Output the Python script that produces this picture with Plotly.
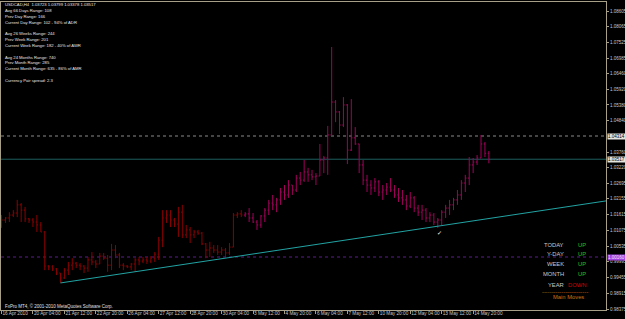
import plotly.graph_objects as go

# ---------------- data ----------------
bar_index = list(range(125))
opens = [1.0126,1.0143,1.0150,1.0160,1.0167,1.0195,1.0177,1.0147,1.0143,1.0136,
         1.0126,1.0102,0.9985,0.9982,0.9975,0.9961,0.9944,0.9971,0.9988,0.9995,
         0.9988,0.9985,0.9978,1.0006,0.9999,0.9992,1.0019,1.0012,0.9988,1.0040,
         1.0023,0.9988,0.9985,0.9982,0.9992,1.0006,1.0002,1.0006,1.0002,1.0012,
         1.0026,1.0074,1.0150,1.0160,1.0143,1.0129,1.0170,1.0092,1.0109,1.0092,
         1.0102,1.0098,1.0061,1.0040,1.0047,1.0040,1.0033,1.0040,1.0030,1.0050,
         1.0160,1.0164,1.0160,1.0164,1.0150,1.0136,1.0126,1.0157,1.0177,1.0201,
         1.0195,1.0212,1.0239,1.0229,1.0263,1.0246,1.0287,1.0280,1.0308,1.0298,
         1.0291,1.0294,1.0349,1.0356,1.0435,1.0548,1.0514,1.0469,1.0538,1.0383,
         1.0425,1.0404,1.0332,1.0280,1.0263,1.0253,1.0274,1.0239,1.0246,1.0256,
         1.0246,1.0229,1.0219,1.0212,1.0191,1.0219,1.0184,1.0170,1.0177,1.0150,
         1.0160,1.0136,1.0143,1.0170,1.0184,1.0195,1.0212,1.0229,1.0270,1.0287,
         1.0332,1.0342,1.0356,1.0404,1.03723]
highs = [1.0160,1.0153,1.0170,1.0177,1.0212,1.0201,1.0188,1.0150,1.0150,1.0160,
         1.0136,1.0105,0.9988,0.9988,0.9978,0.9961,0.9978,0.9999,1.0012,0.9999,
         0.9995,0.9988,1.0016,1.0033,1.0006,1.0030,1.0030,1.0023,1.0061,1.0057,
         1.0030,0.9995,0.9988,0.9995,1.0012,1.0016,1.0016,1.0016,1.0019,1.0033,
         1.0085,1.0177,1.0177,1.0177,1.0150,1.0188,1.0195,1.0126,1.0119,1.0109,
         1.0109,1.0102,1.0064,1.0068,1.0057,1.0057,1.0050,1.0047,1.0064,1.0167,
         1.0170,1.0177,1.0170,1.0184,1.0167,1.0143,1.0160,1.0184,1.0212,1.0229,
         1.0219,1.0253,1.0263,1.0280,1.0263,1.0298,1.0308,1.0349,1.0322,1.0315,
         1.0304,1.0404,1.0363,1.0466,1.0737,1.0555,1.0517,1.0565,1.0541,1.0558,
         1.0462,1.0404,1.0349,1.0298,1.0280,1.0287,1.0280,1.0263,1.0270,1.0287,
         1.0263,1.0253,1.0246,1.0229,1.0239,1.0225,1.0195,1.0195,1.0184,1.0170,
         1.0167,1.0150,1.0177,1.0195,1.0212,1.0219,1.0246,1.0280,1.0298,1.0359,
         1.0356,1.0366,1.0435,1.0411,1.03799]
lows = [1.0116,1.0133,1.0136,1.0153,1.0153,1.0136,1.0136,1.0133,1.0119,1.0102,
        1.0102,0.9971,0.9971,0.9968,0.9954,0.9927,0.9941,0.9954,0.9971,0.9978,
        0.9971,0.9961,0.9965,0.9988,0.9978,0.9992,1.0006,0.9965,0.9971,1.0012,
        0.9978,0.9971,0.9978,0.9971,0.9965,0.9988,0.9995,0.9992,0.9995,0.9999,
        1.0006,1.0050,1.0133,1.0119,1.0119,1.0085,1.0081,1.0081,1.0064,1.0081,
        1.0092,1.0057,1.0012,1.0016,1.0030,1.0023,1.0023,1.0016,1.0023,1.0050,
        1.0150,1.0153,1.0153,1.0136,1.0133,1.0109,1.0116,1.0136,1.0160,1.0177,
        1.0170,1.0195,1.0212,1.0219,1.0229,1.0239,1.0263,1.0274,1.0274,1.0280,
        1.0263,1.0294,1.0304,1.0298,1.0435,1.0479,1.0438,1.0462,1.0335,1.0380,
        1.0401,1.0304,1.0263,1.0239,1.0229,1.0239,1.0225,1.0212,1.0229,1.0239,
        1.0219,1.0205,1.0195,1.0177,1.0184,1.0170,1.0157,1.0143,1.0136,1.0136,
        1.0126,1.0116,1.0126,1.0150,1.0160,1.0177,1.0195,1.0212,1.0239,1.0263,
        1.0304,1.0332,1.0356,1.0359,1.03378]
closes = [1.0143,1.0150,1.0160,1.0167,1.0195,1.0177,1.0147,1.0143,1.0136,1.0126,
          1.0102,0.9985,0.9982,0.9975,0.9961,0.9944,0.9971,0.9988,0.9995,0.9988,
          0.9985,0.9978,1.0006,0.9999,0.9992,1.0019,1.0012,0.9988,1.0040,1.0023,
          0.9988,0.9985,0.9982,0.9992,1.0006,1.0002,1.0006,1.0002,1.0012,1.0026,
          1.0074,1.0150,1.0160,1.0143,1.0129,1.0170,1.0092,1.0109,1.0092,1.0102,
          1.0098,1.0061,1.0040,1.0047,1.0040,1.0033,1.0040,1.0030,1.0050,1.0160,
          1.0164,1.0160,1.0164,1.0150,1.0136,1.0126,1.0157,1.0177,1.0201,1.0195,
          1.0212,1.0239,1.0229,1.0263,1.0246,1.0287,1.0280,1.0308,1.0298,1.0291,
          1.0294,1.0349,1.0356,1.0435,1.0548,1.0514,1.0469,1.0538,1.0383,1.0425,
          1.0404,1.0332,1.0280,1.0263,1.0253,1.0274,1.0239,1.0246,1.0256,1.0246,
          1.0229,1.0219,1.0212,1.0191,1.0219,1.0184,1.0170,1.0177,1.0150,1.0160,
          1.0136,1.0143,1.0170,1.0184,1.0195,1.0212,1.0229,1.0270,1.0287,1.0332,
          1.0342,1.0356,1.0404,1.0372,1.03517]
color_split = 62  # bars from here on are drawn in the second colour

time_tick_index = [0, 8, 16, 24, 32, 40, 48, 56, 64, 72, 80, 88, 96, 104, 112, 120]
time_tick_labels = ["16 Apr 2010", "20 Apr 04:00", "21 Apr 12:00", "22 Apr 20:00",
                    "26 Apr 04:00", "27 Apr 12:00", "28 Apr 20:00", "30 Apr 04:00",
                    "3 May 12:00", "4 May 20:00", "6 May 04:00", "7 May 12:00",
                    "10 May 20:00", "12 May 04:00", "13 May 12:00", "14 May 20:00"]
price_ticks = [1.08605, 1.08065, 1.07525, 1.06985, 1.06460, 1.05920, 1.05380, 1.04840,
               1.03760, 1.03220, 1.02695, 1.02155, 1.01615, 1.01075, 1.00535,
               0.99995, 0.99455, 0.98915, 0.98375]
price_tick_labels = ["%.5f" % v for v in price_ticks]

trend_x = [15, 154]
trend_y = [0.9927, 1.0209]
bid_price = 1.03517
gray_level = 1.04314
purple_level = 1.00160

info_lines = [
    ("USDCAD,H4  1.03723 1.03799 1.03378 1.03517", 5.0),
    ("Avg 66 Days Range: 108", 10.5),
    ("Prev Day Range: 166", 16.3),
    ("Current Day Range: 102 - 94% of ADR", 22.2),
    ("Avg 26 Weeks Range: 244", 33.8),
    ("Prev Week Range: 201", 39.5),
    ("Current Week Range: 182 - 40% of AWR", 45.3),
    ("Avg 24 Months Range: 740", 57.0),
    ("Prev Month Range: 285", 62.8),
    ("Current Month Range: 635 - 86% of AMR", 68.6),
    ("Currency Pair spread: 2.3", 80.5),
]
move_labels = ["TODAY", "Y-DAY", "WEEK", "MONTH", "YEAR"]
move_values = ["UP", "UP", "UP", "UP", "DOWN"]

# ---------------- layout helpers ----------------
W, H = 625, 319
ML, MR, MT, MB = 1, 19, 2, 9
PW = W - ML - MR
PH = H - MT - MB
def pxx(x):
    return (x - ML) / PW
def pxy(y):
    return (H - MB - y) / PH

FONT = "Liberation Sans, Arial, sans-serif"
BORDER = "#A89F88"
C1 = "#8C0000"
C2 = "#A3005C"

fig = go.Figure()
fig.add_trace(go.Ohlc(
    x=bar_index[:color_split], open=opens[:color_split], high=highs[:color_split],
    low=lows[:color_split], close=closes[:color_split],
    increasing=dict(line=dict(color=C1, width=1)),
    decreasing=dict(line=dict(color=C1, width=1)),
    tickwidth=0.3, hoverinfo="skip", showlegend=False))
fig.add_trace(go.Ohlc(
    x=bar_index[color_split:], open=opens[color_split:], high=highs[color_split:],
    low=lows[color_split:], close=closes[color_split:],
    increasing=dict(line=dict(color=C2, width=1)),
    decreasing=dict(line=dict(color=C2, width=1)),
    tickwidth=0.3, hoverinfo="skip", showlegend=False))

fig.add_trace(go.Scatter(x=trend_x, y=trend_y, mode="lines",
                         line=dict(color="#22A3A3", width=1),
                         hoverinfo="skip", showlegend=False))

shapes = [
    dict(type="line", xref="paper", x0=0, x1=1, yref="y", y0=gray_level, y1=gray_level,
         line=dict(color="#8A8A8A", width=1, dash="dot"), layer="below"),
    dict(type="line", xref="paper", x0=0, x1=1, yref="y", y0=bid_price, y1=bid_price,
         line=dict(color="#1D5F5F", width=1), layer="below"),
    dict(type="line", xref="paper", x0=0, x1=1, yref="y", y0=purple_level, y1=purple_level,
         line=dict(color="#5B1E8C", width=1, dash="dot"), layer="below"),
]

ann = []
for txt, yy in info_lines:
    ann.append(dict(text=txt, xref="paper", yref="paper", x=pxx(3), y=pxy(yy),
                    xanchor="left", yanchor="middle", showarrow=False,
                    font=dict(family=FONT, size=4.2, color="#E6E6E6")))
move_y = [244.8, 254.4, 264.3, 274.2, 284.5]
for lab, val, yy in zip(move_labels, move_values, move_y):
    ann.append(dict(text=lab, xref="paper", yref="paper", x=pxx(565.5), y=pxy(yy),
                    xanchor="right", yanchor="middle", showarrow=False,
                    font=dict(family=FONT, size=5.8, color="#C8C8C8")))
    ann.append(dict(text=val, xref="paper", yref="paper", x=pxx(587.5), y=pxy(yy),
                    xanchor="right", yanchor="middle", showarrow=False,
                    font=dict(family=FONT, size=5.8,
                              color="#20C020" if val == "UP" else "#D00000")))
ann.append(dict(text="-" * 24, xref="paper", yref="paper", x=pxx(565), y=pxy(291.5),
                xanchor="center", yanchor="middle", showarrow=False,
                font=dict(family=FONT, size=5.8, color="#D07010")))
ann.append(dict(text="Main Moves", xref="paper", yref="paper", x=pxx(568.5), y=pxy(297),
                xanchor="center", yanchor="middle", showarrow=False,
                font=dict(family=FONT, size=5.8, color="#D07010")))
ann.append(dict(text="FxPro MT4, © 2001-2010 MetaQuotes Software Corp.", xref="paper",
                yref="paper", x=pxx(3), y=pxy(306), xanchor="left", yanchor="middle",
                showarrow=False, font=dict(family=FONT, size=4.5, color="#E0E0E0")))
# check mark under the low bar
ann.append(dict(text="✓", x=bar_index[111] + 0.4, y=lows[111], xref="x", yref="y",
                xanchor="center", yanchor="top", showarrow=False, yshift=1,
                font=dict(family="DejaVu Sans", size=6, color="#FFFFFF")))
# price boxes on the scale
for val, bg, fg in [(gray_level, "#E4E4E0", "#000000"),
                    (bid_price, "#E4E4E0", "#000000"),
                    (purple_level, "#A040E0", "#F0E0FF")]:
    ann.append(dict(text="%.5f" % val, xref="paper", yref="y", x=1, y=val,
                    xanchor="left", yanchor="middle", showarrow=False, xshift=1,
                    bgcolor=bg, borderpad=0,
                    font=dict(family=FONT, size=4.5, color=fg)))

fig.update_layout(
    width=W, height=H,
    margin=dict(l=ML, r=MR, t=MT, b=MB, pad=0),
    paper_bgcolor="#000000", plot_bgcolor="#000000",
    shapes=shapes, annotations=ann, showlegend=False,
    xaxis=dict(range=[-0.13, 153.8], rangeslider=dict(visible=False),
               tickvals=time_tick_index, ticktext=time_tick_labels,
               ticklabelposition="outside right", tickangle=0,
               ticklabelstandoff=-2,
               tickfont=dict(family=FONT, size=4.7, color="#C8C8C8"),
               ticks="outside", ticklen=3, tickcolor=BORDER,
               showline=True, linecolor=BORDER, linewidth=1, mirror=True,
               showgrid=False, zeroline=False, automargin=False, fixedrange=True),
    yaxis=dict(range=[0.98341, 1.08914], side="right",
               tickvals=price_ticks, ticktext=price_tick_labels,
               tickfont=dict(family=FONT, size=4.5, color="#C8C8C8"),
               ticks="outside", ticklen=2, tickcolor=BORDER,
               showline=True, linecolor=BORDER, linewidth=1, mirror=True,
               showgrid=False, zeroline=False, automargin=False, fixedrange=True),
)

fig.write_html("out.html", config={"displayModeBar": False})
